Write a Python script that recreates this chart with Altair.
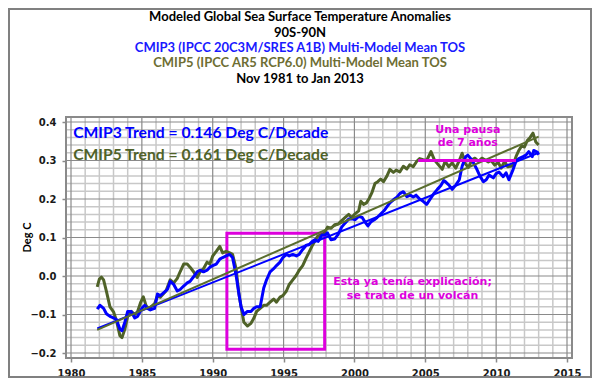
import altair as alt
import pandas as pd

# ---------------- data ----------------
cmip5_years = [1981.85, 1982.0, 1982.15, 1982.3, 1982.5, 1982.75, 1983.0, 1983.2, 1983.45, 1983.6,
               1983.8, 1984.0, 1984.25, 1984.5, 1984.7, 1984.9, 1985.1, 1985.3, 1985.5, 1985.9,
               1986.1, 1986.3, 1986.7, 1987.0, 1987.25, 1987.5, 1987.7, 1987.95, 1988.2, 1988.4,
               1988.65, 1988.9, 1989.1, 1989.35, 1989.6, 1989.8, 1990.0, 1990.25, 1990.5, 1990.7,
               1990.95, 1991.2, 1991.4, 1991.65, 1991.85, 1992.0, 1992.2, 1992.45, 1992.7, 1992.9,
               1993.1, 1993.35, 1993.6, 1993.8, 1994.05, 1994.3, 1994.5, 1994.75, 1994.95, 1995.2,
               1995.4, 1995.65, 1995.9, 1996.1, 1996.35, 1996.6, 1996.8, 1997.0, 1997.2, 1997.4,
               1997.6, 1997.85, 1998.1, 1998.35, 1998.6, 1998.85, 1999.1, 1999.35, 1999.6, 1999.8,
               2000.0, 2000.3, 2000.45, 2000.65, 2000.85, 2001.05, 2001.25, 2001.45, 2001.65, 2001.85,
               2002.05, 2002.3, 2002.5, 2002.75, 2002.95, 2003.2, 2003.45, 2003.7, 2003.9, 2004.15,
               2004.4, 2004.6, 2004.85, 2005.1, 2005.4, 2005.65, 2005.9, 2006.2, 2006.4, 2006.65,
               2006.9, 2007.15, 2007.4, 2007.6, 2007.85, 2008.05, 2008.3, 2008.5, 2008.75, 2009.0,
               2009.2, 2009.45, 2009.65, 2009.9, 2010.15, 2010.35, 2010.6, 2010.8, 2011.05, 2011.2,
               2011.4, 2011.6, 2011.8, 2012.0, 2012.2, 2012.4, 2012.6, 2012.8, 2013.0]
cmip5_values = [-0.028, -0.008, -0.003, -0.010, -0.040, -0.080, -0.093, -0.115, -0.155, -0.160,
                -0.138, -0.105, -0.092, -0.100, -0.092, -0.070, -0.054, -0.077, -0.085, -0.072,
                -0.051, -0.055, -0.039, -0.010, -0.018, -0.006, 0.011, 0.031, 0.031, 0.023,
                0.011, -0.004, 0.011, 0.019, 0.036, 0.031, 0.052, 0.064, 0.077, 0.060,
                0.064, 0.060, 0.056, 0.019, -0.047, -0.080, -0.120, -0.130, -0.123, -0.110,
                -0.092, -0.084, -0.076, -0.076, -0.068, -0.060, -0.068, -0.055, -0.051, -0.039,
                -0.022, -0.010, 0.002, 0.015, 0.027, 0.047, 0.062, 0.077, 0.090, 0.103,
                0.106, 0.110, 0.127, 0.124, 0.133, 0.135, 0.144, 0.152, 0.160, 0.152,
                0.160, 0.169, 0.194, 0.186, 0.190, 0.202, 0.218, 0.240, 0.245, 0.252,
                0.245, 0.260, 0.277, 0.269, 0.275, 0.270, 0.285, 0.278, 0.289, 0.284,
                0.298, 0.305, 0.302, 0.300, 0.323, 0.301, 0.290, 0.277, 0.298, 0.284,
                0.294, 0.280, 0.300, 0.319, 0.290, 0.282, 0.302, 0.306, 0.298, 0.306,
                0.302, 0.296, 0.300, 0.288, 0.295, 0.280, 0.298, 0.284, 0.285, 0.289,
                0.310, 0.326, 0.338, 0.335, 0.352, 0.360, 0.371, 0.348, 0.340]

cmip3_years = [1981.85, 1982.05, 1982.3, 1982.5, 1982.75, 1983.0, 1983.2, 1983.45, 1983.6, 1983.8,
               1984.0, 1984.25, 1984.5, 1984.7, 1985.0, 1985.2, 1985.4, 1985.6, 1985.9, 1986.1,
               1986.3, 1986.55, 1986.8, 1987.0, 1987.25, 1987.5, 1987.7, 1987.95, 1988.2, 1988.4,
               1988.65, 1988.9, 1989.1, 1989.35, 1989.6, 1989.8, 1990.0, 1990.25, 1990.5, 1990.7,
               1990.95, 1991.2, 1991.4, 1991.65, 1991.85, 1992.0, 1992.2, 1992.45, 1992.7, 1992.9,
               1993.1, 1993.35, 1993.6, 1993.8, 1994.05, 1994.3, 1994.5, 1994.75, 1994.95, 1995.2,
               1995.4, 1995.65, 1995.9, 1996.1, 1996.35, 1996.6, 1996.8, 1997.0, 1997.2, 1997.45,
               1997.7, 1997.95, 1998.1, 1998.35, 1998.6, 1998.85, 1999.1, 1999.35, 1999.6, 1999.85,
               2000.05, 2000.3, 2000.55, 2000.75, 2000.95, 2001.15, 2001.4, 2001.6, 2001.85, 2002.1,
               2002.3, 2002.5, 2002.75, 2003.0, 2003.2, 2003.45, 2003.7, 2003.95, 2004.15, 2004.35,
               2004.6, 2004.85, 2005.1, 2005.35, 2005.6, 2005.85, 2006.1, 2006.3, 2006.45, 2006.7,
               2006.9, 2007.15, 2007.4, 2007.6, 2007.85, 2008.0, 2008.3, 2008.6, 2008.85, 2009.1,
               2009.3, 2009.5, 2009.8, 2010.0, 2010.2, 2010.5, 2010.7, 2010.9, 2011.2, 2011.4,
               2011.6, 2011.9, 2012.1, 2012.3, 2012.55, 2012.65, 2012.9, 2013.0]
cmip3_values = [-0.086, -0.076, -0.084, -0.098, -0.105, -0.109, -0.113, -0.138, -0.142, -0.120,
                -0.092, -0.092, -0.109, -0.105, -0.084, -0.076, -0.084, -0.088, -0.084, -0.047,
                -0.051, -0.043, -0.035, -0.014, -0.022, -0.039, -0.035, -0.026, -0.018, -0.014,
                -0.002, 0.011, 0.015, 0.011, 0.015, 0.023, 0.027, 0.031, 0.044, 0.048,
                0.052, 0.056, 0.048, 0.002, -0.047, -0.080, -0.100, -0.092, -0.092, -0.084,
                -0.080, -0.080, -0.031, -0.010, 0.011, 0.019, 0.027, 0.036, 0.048, 0.056,
                0.052, 0.056, 0.052, 0.056, 0.069, 0.080, 0.081, 0.089, 0.094, 0.090,
                0.106, 0.107, 0.112, 0.094, 0.096, 0.108, 0.127, 0.138, 0.148, 0.149,
                0.146, 0.155, 0.152, 0.140, 0.130, 0.140, 0.146, 0.152, 0.161, 0.170,
                0.180, 0.190, 0.198, 0.205, 0.214, 0.219, 0.206, 0.210, 0.205, 0.210,
                0.200, 0.194, 0.186, 0.200, 0.214, 0.225, 0.235, 0.248, 0.244, 0.235,
                0.225, 0.236, 0.250, 0.285, 0.310, 0.314, 0.301, 0.280, 0.260, 0.245,
                0.250, 0.262, 0.255, 0.266, 0.270, 0.258, 0.268, 0.250, 0.277, 0.298,
                0.305, 0.310, 0.314, 0.323, 0.310, 0.326, 0.322, 0.315]

trend_years = [1981.85, 2013.0]
cmip3_trend = [-0.136, 0.320]
cmip5_trend = [-0.140, 0.362]

title_lines = [
    "Modeled Global Sea Surface Temperature Anomalies",
    "90S-90N",
    "CMIP3 (IPCC 20C3M/SRES A1B) Multi-Model Mean TOS",
    "CMIP5 (IPCC AR5 RCP6.0) Multi-Model Mean TOS",
    "Nov 1981 to Jan 2013",
]
trend_labels = ["CMIP3 Trend = 0.146 Deg C/Decade", "CMIP5 Trend = 0.161 Deg C/Decade"]
trend_label_x = [1980.15, 1980.15]
trend_label_y = [0.372, 0.313]
pause_label = ["Una pausa", "de 7 años"]
pause_label_x = [2008.0, 2008.0]
pause_label_y = [0.380, 0.345]
volcano_label = ["Esta ya tenía explicación;", "se trata de un volcán"]
volcano_label_x = [2004.1, 2004.1]
volcano_label_y = [-0.015, -0.053]
volcano_box = {"x": [1991.0], "x2": [1997.9], "y": [0.111], "y2": [-0.19]}
pause_line = {"x": [2004.5], "x2": [2011.4], "y": [0.30]}

x_ticks = [1980, 1985, 1990, 1995, 2000, 2005, 2010, 2015]
y_ticks = [-0.2, -0.1, 0.0, 0.1, 0.2, 0.3, 0.4]
x_minor = [float(y) for y in range(1981, 2015) if y % 5 != 0]
y_minor = [round(-0.2 + 0.02 * i, 2) for i in range(1, 30) if i % 5 != 0]

# ---------------- style ----------------
BLUE = "#0000ff"
OLIVE = "#4f6228"
MAGENTA = "#dd00dd"
MINOR = "#c8c8c8"
MAJOR = "#8a8a8a"
FRAME = "#808080"
W, H = 506, 241

xs = alt.Scale(domain=[1980, 2015], nice=False, zero=False)
ys = alt.Scale(domain=[-0.2, 0.4], nice=False, zero=False)

x_axis = alt.Axis(values=x_ticks, format="d", title=None, grid=False, domain=False,
                  labelFont="DejaVu Sans", labelFontSize=10, labelFontWeight="bold",
                  labelColor="#1a1a1a", labelPadding=6, labelFlush=False,
                  tickSize=4, tickColor=MAJOR, tickWidth=1.5)
y_axis = alt.Axis(values=y_ticks, format=".1f", title="Deg C", grid=False, domain=False,
                  labelFont="DejaVu Sans", labelFontSize=10, labelFontWeight="bold",
                  labelColor="#1a1a1a", labelPadding=6,
                  tickSize=4, tickColor=MAJOR, tickWidth=1.5,
                  titleFont="Lato", titleFontSize=11, titleFontWeight="bold",
                  titleColor="#000000", titleX=-39, titleY=120, titleAlign="center",
                  titleBaseline="middle")


def X():
    return alt.X("x:Q", scale=xs, axis=x_axis)


def Y():
    return alt.Y("y:Q", scale=ys, axis=y_axis)


layers = []
# grid drawn as thin filled bars (minor: every year / 0.02 deg; major: every 5 years / 0.1 deg)
layers.append(alt.Chart(pd.DataFrame({"x": x_minor})).mark_bar(
    width=1.5, color=MINOR, orient="vertical").encode(x=X(), y=alt.value(0), y2=alt.value(H)))
layers.append(alt.Chart(pd.DataFrame({"y": y_minor})).mark_bar(
    height=1.5, color=MINOR, orient="horizontal").encode(y=Y(), x=alt.value(0), x2=alt.value(W)))
layers.append(alt.Chart(pd.DataFrame({"x": [float(v) for v in x_ticks]})).mark_bar(
    width=1.2, color=MAJOR, orient="vertical").encode(x=X(), y=alt.value(0), y2=alt.value(H)))
layers.append(alt.Chart(pd.DataFrame({"y": y_ticks})).mark_bar(
    height=1.2, color=MAJOR, orient="horizontal").encode(y=Y(), x=alt.value(0), x2=alt.value(W)))

# plot-area border
layers.append(alt.Chart(pd.DataFrame({"a": [0]})).mark_rect(
    fillOpacity=0, stroke=MAJOR, strokeWidth=2).encode(
    x=alt.value(0), x2=alt.value(W), y=alt.value(0), y2=alt.value(H)))

layers.append(alt.Chart(pd.DataFrame(volcano_box)).mark_rect(
    fillOpacity=0, stroke=MAGENTA, strokeWidth=3).encode(x=X(), x2="x2:Q", y=Y(), y2="y2:Q"))

layers.append(alt.Chart(pd.DataFrame({"x": cmip5_years, "y": cmip5_values})).mark_line(
    color=OLIVE, strokeWidth=3, strokeJoin="round").encode(x=X(), y=Y()))
layers.append(alt.Chart(pd.DataFrame({"x": cmip3_years, "y": cmip3_values})).mark_line(
    color=BLUE, strokeWidth=3, strokeJoin="round").encode(x=X(), y=Y()))
layers.append(alt.Chart(pd.DataFrame({"x": trend_years, "y": cmip3_trend})).mark_line(
    color=BLUE, strokeWidth=2).encode(x=X(), y=Y()))
layers.append(alt.Chart(pd.DataFrame({"x": trend_years, "y": cmip5_trend})).mark_line(
    color="#5a6e2e", strokeWidth=2).encode(x=X(), y=Y()))

layers.append(alt.Chart(pd.DataFrame(pause_line)).mark_rule(
    color=MAGENTA, strokeWidth=3).encode(x=X(), x2="x2:Q", y=Y()))

for i, col in enumerate([BLUE, OLIVE]):
    layers.append(alt.Chart(pd.DataFrame({"x": [trend_label_x[i]], "y": [trend_label_y[i]],
                                          "t": [trend_labels[i]]})).mark_text(
        align="left", baseline="middle", font="Lato", fontSize=15.7, fontWeight="bold", color=col
    ).encode(x=X(), y=Y(), text="t:N"))

layers.append(alt.Chart(pd.DataFrame({"x": pause_label_x, "y": pause_label_y, "t": pause_label})).mark_text(
    align="center", baseline="middle", font="DejaVu Sans", fontSize=11, fontWeight="bold",
    color=MAGENTA).encode(x=X(), y=Y(), text="t:N"))
layers.append(alt.Chart(pd.DataFrame({"x": volcano_label_x, "y": volcano_label_y, "t": volcano_label})).mark_text(
    align="center", baseline="middle", font="DejaVu Sans", fontSize=11, fontWeight="bold",
    color=MAGENTA).encode(x=X(), y=Y(), text="t:N"))

title_colors = ["#000000", "#000000", "#1a1aff", "#6e6e33", "#000000"]
title_y = [-100, -84, -69, -54, -38]
for line, col, ty in zip(title_lines, title_colors, title_y):
    layers.append(alt.Chart(pd.DataFrame({"t": [line]})).mark_text(
        align="center", baseline="middle", font="Lato", fontSize=13, fontWeight="bold", color=col
    ).encode(text="t:N", x=alt.value(234), y=alt.value(ty)))

# outer frame of the whole figure
layers.append(alt.Chart(pd.DataFrame({"a": [0]})).mark_rect(
    fillOpacity=0, stroke=FRAME, strokeWidth=2).encode(
    x=alt.value(-57), x2=alt.value(525), y=alt.value(-108), y2=alt.value(260)))

chart = alt.layer(*layers).properties(
    width=W, height=H,
    padding={"left": 58, "top": 109, "right": 20, "bottom": 20},
    autosize=alt.AutoSizeParams(type="none"),
    background="white",
).configure_view(stroke=None)

chart.save("out.html", embed_options={"renderer": "svg", "actions": False})
